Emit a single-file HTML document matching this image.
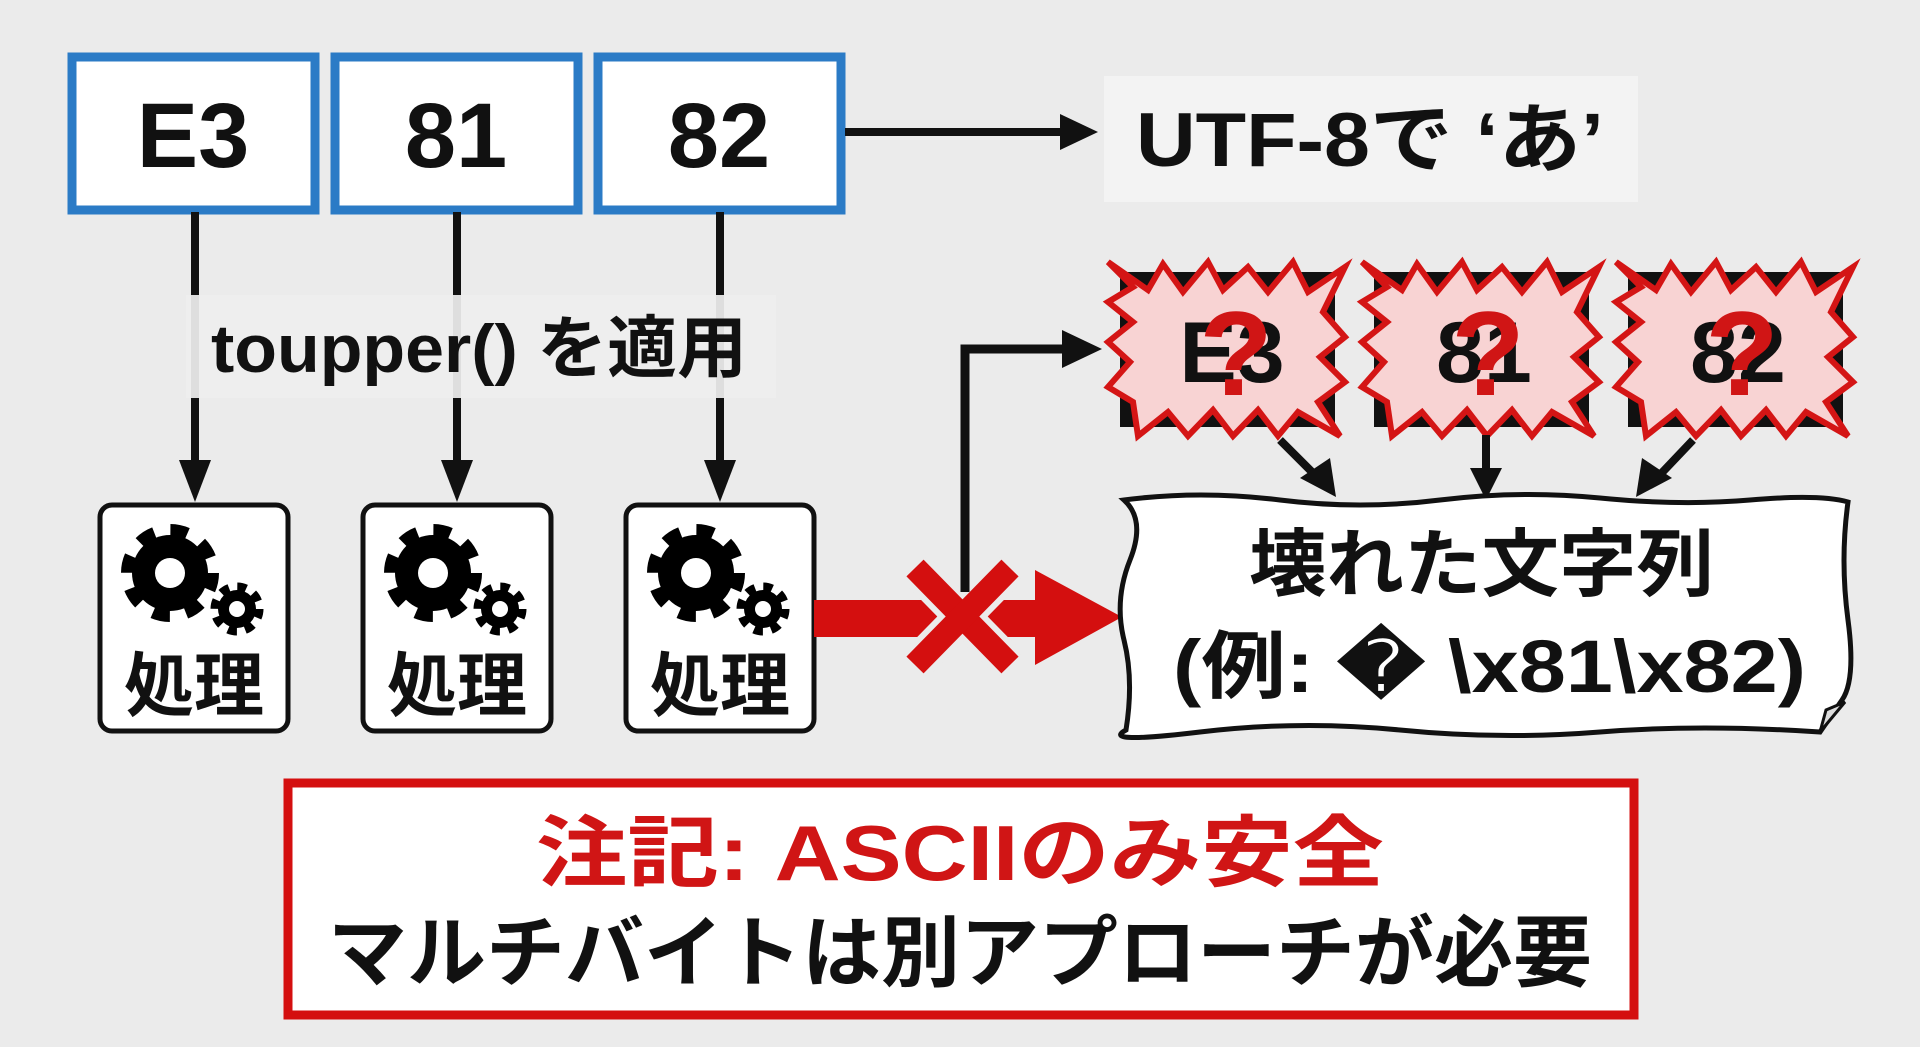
<!DOCTYPE html>
<html><head><meta charset="utf-8"><style>
html,body{margin:0;padding:0;background:#ebebeb;}
svg{display:block}
text{font-family:"Liberation Sans","Noto Sans CJK JP",sans-serif;font-weight:bold;}
</style></head><body>
<svg width="1920" height="1047" viewBox="0 0 1920 1047" xmlns="http://www.w3.org/2000/svg">
<defs>
<g id="gear">
  <circle cx="0" cy="0" r="38" fill="#000"/>
  <circle cx="0" cy="0" r="42" fill="none" stroke="#000" stroke-width="14" stroke-dasharray="17 16"/>
  <circle cx="0" cy="0" r="15" fill="#fff"/>
</g>
<g id="sgear">
  <circle cx="0" cy="0" r="19" fill="#000"/>
  <circle cx="0" cy="0" r="22" fill="none" stroke="#000" stroke-width="9" stroke-dasharray="9 8.3"/>
  <circle cx="0" cy="0" r="8" fill="#fff"/>
</g>
<g id="burst">
  <rect x="12" y="10" width="215" height="155" fill="#111"/>
  <polygon points="0,0 40,28 55,2 75,30 100,0 115,28 140,5 160,30 185,0 200,30 237,5 215,50 237,75 212,95 237,120 210,140 232,174 190,150 170,174 150,148 125,174 105,148 80,174 60,150 30,174 25,140 0,125 22,100 0,80 25,60 0,40 25,25" fill="#f8d3d3" stroke="#d41515" stroke-width="6" stroke-linejoin="miter"/>
</g>
</defs>

<g stroke="#2b7bc6" stroke-width="9" fill="#fff">
<rect x="72" y="57" width="243" height="153"/>
<rect x="335" y="57" width="243" height="153"/>
<rect x="598" y="57" width="243" height="153"/>
</g>
<g font-size="92" text-anchor="middle" fill="#111">
<text x="193" y="167">E3</text>
<text x="456" y="167">81</text>
<text x="719" y="167">82</text>
</g>

<line x1="845" y1="132" x2="1070" y2="132" stroke="#111" stroke-width="8"/>
<polygon points="1060,114 1098,132 1060,150" fill="#111"/>
<rect x="1104" y="76" width="534" height="126" fill="#f3f3f3"/>
<text x="1136" y="166" font-size="76" fill="#111" textLength="468" lengthAdjust="spacingAndGlyphs">UTF-8で ‘あ’</text>

<g stroke="#111" stroke-width="8">
<line x1="195" y1="212" x2="195" y2="480"/>
<line x1="457" y1="212" x2="457" y2="480"/>
<line x1="720" y1="212" x2="720" y2="480"/>
</g>
<g fill="#111">
<polygon points="179,460 195,502 211,460"/>
<polygon points="441,460 457,502 473,460"/>
<polygon points="704,460 720,502 736,460"/>
</g>
<rect x="186" y="295" width="590" height="103" fill="#eeeeee" opacity="0.93"/>
<text x="211" y="372" font-size="68" fill="#111" textLength="536" lengthAdjust="spacingAndGlyphs">toupper() を適用</text>

<g fill="#fff" stroke="#111" stroke-width="5">
<rect x="100" y="505" width="188" height="226" rx="12"/>
<rect x="363" y="505" width="188" height="226" rx="12"/>
<rect x="626" y="505" width="188" height="226" rx="12"/>
</g>
<use href="#gear" x="170" y="573"/><use href="#sgear" x="237" y="609"/>
<use href="#gear" x="433" y="573"/><use href="#sgear" x="500" y="609"/>
<use href="#gear" x="696" y="573"/><use href="#sgear" x="763" y="609"/>
<g font-size="70" text-anchor="middle" fill="#111">
<text x="194" y="710">処理</text>
<text x="457" y="710">処理</text>
<text x="720" y="710">処理</text>
</g>

<rect x="814" y="600" width="225" height="37" fill="#d40f0f"/>
<polygon points="1035,570 1122,617 1035,665" fill="#d40f0f"/>
<g stroke="#ebebeb" stroke-width="36"><line x1="915" y1="568" x2="1010" y2="665"/><line x1="1010" y1="568" x2="915" y2="665"/></g>
<g stroke="#d40f0f" stroke-width="24"><line x1="915" y1="568" x2="1010" y2="665"/><line x1="1010" y1="568" x2="915" y2="665"/></g>

<polyline points="965,592 965,349 1070,349" fill="none" stroke="#111" stroke-width="9"/>
<polygon points="1062,330 1102,349 1062,368" fill="#111"/>

<use href="#burst" x="1108" y="262"/>
<use href="#burst" x="1362" y="262"/>
<use href="#burst" x="1616" y="262"/>
<g font-size="86" text-anchor="middle" fill="#111">
<text x="1232" y="382">E3</text>
<text x="1484" y="382">81</text>
<text x="1738" y="382">82</text>
</g>
<g font-size="120" text-anchor="middle" fill="#d01515">
<text x="1236" y="395">?</text>
<text x="1488" y="395">?</text>
<text x="1742" y="395">?</text>
</g>

<g stroke="#111" stroke-width="8">
<line x1="1280" y1="440" x2="1320" y2="480"/>
<line x1="1486" y1="435" x2="1486" y2="475"/>
<line x1="1693" y1="440" x2="1655" y2="480"/>
</g>
<polygon points="1300,478 1336,497 1330,458" fill="#111"/>
<polygon points="1470,468 1486,500 1502,468" fill="#111"/>
<polygon points="1642,458 1636,497 1672,478" fill="#111"/>

<path d="M1124,500 Q1200,490 1280,500 T1440,500 T1600,498 T1750,500 T1848,502 Q1840,560 1848,620 T1842,700 L1820,732 Q1700,724 1600,732 T1400,730 T1200,732 T1126,730 Q1134,680 1124,640 T1130,560 T1124,500 Z" fill="#fff" stroke="#111" stroke-width="5"/>
<polygon points="1820,732 1826,710 1845,702" fill="#ddd" stroke="#111" stroke-width="3"/>
<g font-size="74" fill="#111">
<text x="1249" y="590" textLength="465" lengthAdjust="spacingAndGlyphs">壊れた文字列</text>
<text x="1173" y="692" textLength="633" lengthAdjust="spacingAndGlyphs">(例: � \x81\x82)</text>
</g>

<rect x="288" y="783" width="1346" height="232" fill="#fff" stroke="#d40f0f" stroke-width="9"/>
<text x="536" y="880" font-size="78" fill="#d01515" textLength="848" lengthAdjust="spacingAndGlyphs">注記: ASCIIのみ安全</text>
<text x="328" y="980" font-size="78" fill="#111" textLength="1264" lengthAdjust="spacingAndGlyphs">マルチバイトは別アプローチが必要</text>
</svg>
</body></html>
